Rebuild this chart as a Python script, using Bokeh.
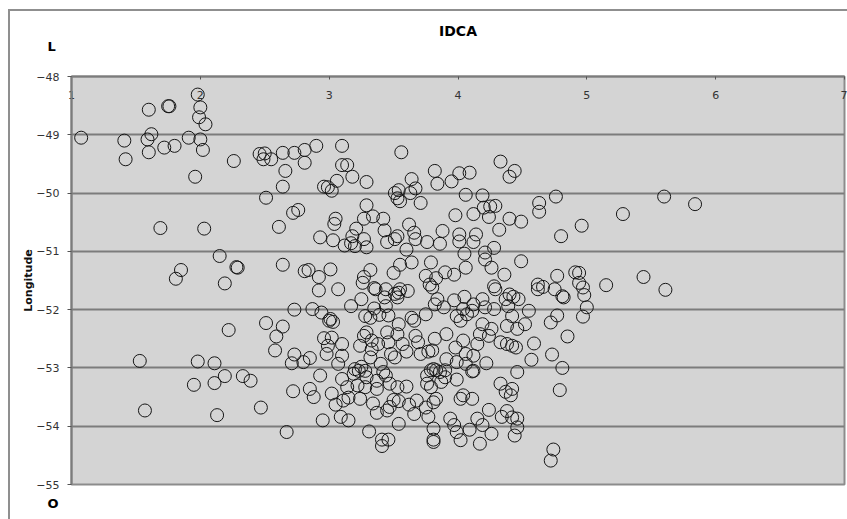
from bokeh.plotting import figure
from bokeh.models import Range1d, FixedTicker, Title, ColumnDataSource
from bokeh.embed import file_html
from bokeh.resources import INLINE

title_text = "IDCA"
y_axis_title = "Longitude"
top_letter = "L"
bottom_letter = "O"
x_ticks = [1, 2, 3, 4, 5, 6, 7]
y_ticks = [-48, -49, -50, -51, -52, -53, -54, -55]

# left part
x_left = [1.075, 1.41, 1.42, 1.60, 1.62, 1.59, 1.60, 1.75, 1.76, 1.72, 1.80, 1.98, 2.00, 1.99, 2.04,
          1.91, 2.00, 2.02, 1.96, 2.26, 2.46, 2.50, 2.49, 2.55, 2.64, 2.73, 2.66, 2.64, 2.51, 2.72,
          2.76, 1.69, 2.03, 2.61, 2.15, 2.28, 2.29, 1.85, 1.81, 2.64, 2.19, 2.73, 2.51, 2.64, 2.59,
          2.58, 2.22, 2.73, 2.71, 1.53, 1.98, 2.11, 2.19, 2.33, 2.39, 1.95, 2.11, 2.72, 1.57, 2.13,
          2.47, 2.67]
y_left = [-49.05, -49.10, -49.42, -48.57, -48.99, -49.08, -49.30, -48.51, -48.51, -49.22, -49.19, -48.31, -48.53, -48.70, -48.82,
          -49.05, -49.08, -49.26, -49.72, -49.45, -49.33, -49.32, -49.42, -49.42, -49.31, -49.31, -49.62, -49.89, -50.08, -50.34,
          -50.29, -50.60, -50.61, -50.58, -51.08, -51.27, -51.28, -51.32, -51.47, -51.23, -51.55, -52.00, -52.23, -52.29, -52.46,
          -52.70, -52.35, -52.77, -52.92, -52.88, -52.89, -52.92, -53.14, -53.14, -53.22, -53.29, -53.26, -53.40, -53.73, -53.81,
          -53.68, -54.10]

# upper middle part
x_upper = [2.81, 2.81, 2.90, 3.10, 3.10, 3.14, 3.18, 3.29, 3.56, 3.06, 2.96, 2.99, 3.02,
           3.29, 3.05, 3.04, 2.93, 3.03, 3.12, 3.18, 3.17, 3.21, 3.27, 3.34, 3.42, 3.20, 3.27, 3.29,
           3.43, 3.45, 3.51, 3.53, 3.60, 3.62, 3.66, 3.67, 3.76, 3.86, 3.88,
           3.51, 3.54, 3.53, 3.55, 3.63, 3.67, 3.64, 3.71,
           3.82, 3.84, 3.95, 4.01, 4.09, 4.06, 4.19, 4.33, 4.40, 4.44,
           3.98, 4.12, 4.20, 4.25, 4.29, 4.24, 4.40, 4.49, 4.32,
           4.01, 4.01, 4.12, 4.14, 4.05, 4.06, 4.21, 4.21, 4.28, 4.26, 4.49, 4.36,
           3.79, 3.90, 3.97, 3.55, 3.64, 3.50, 3.75, 3.83, 3.01, 2.81, 2.84, 2.92, 3.27, 3.32]
y_upper = [-49.26, -49.48, -49.19, -49.19, -49.52, -49.52, -49.72, -49.81, -49.30, -49.79, -49.89, -49.90, -49.96,
           -50.21, -50.44, -50.53, -50.76, -50.81, -50.90, -50.74, -50.86, -50.61, -50.44, -50.40, -50.44, -50.91, -50.79, -50.93,
           -50.64, -50.84, -50.79, -50.74, -50.97, -50.54, -50.68, -50.79, -50.84, -50.87, -50.65,
           -50.00, -49.95, -50.09, -50.14, -50.00, -49.92, -49.76, -50.17,
           -49.62, -49.84, -49.80, -49.66, -49.65, -50.03, -50.04, -49.46, -49.72, -49.62,
           -50.38, -50.36, -50.25, -50.23, -50.22, -50.41, -50.44, -50.49, -50.63,
           -50.71, -50.83, -50.84, -50.71, -51.04, -51.28, -51.02, -51.14, -50.94, -51.28, -51.17, -51.40,
           -51.19, -51.36, -51.40, -51.23, -51.19, -51.37, -51.42, -51.46, -51.31, -51.34, -51.32, -51.44, -51.44, -51.32]

# right part
x_right = [4.63, 4.63, 4.76, 4.80, 4.96, 5.28, 5.60, 5.84,
           4.77, 4.91, 4.94, 5.44,
           4.62, 4.66, 4.62, 4.75, 4.81, 4.82, 4.94, 4.97, 4.98, 5.00, 4.97, 5.15, 5.61,
           4.55, 4.77, 4.72, 4.85, 4.59, 4.73, 4.57, 4.81, 4.79, 4.74, 4.72]
y_right = [-50.17, -50.32, -50.06, -50.74, -50.56, -50.36, -50.06, -50.19,
           -51.42, -51.36, -51.37, -51.44,
           -51.57, -51.61, -51.65, -51.65, -51.77, -51.79, -51.54, -51.62, -51.75, -51.96, -52.12, -51.58, -51.66,
           -52.02, -52.10, -52.22, -52.46, -52.58, -52.77, -52.86, -53.00, -53.38, -54.40, -54.59]

# dense central part
x_dense = [2.92, 3.07, 3.26, 3.35, 3.36, 3.44, 3.51, 3.54, 3.55, 3.61, 3.53, 3.78, 3.80, 4.28, 4.29,
           4.40, 4.43, 4.47, 4.39, 4.37, 4.52, 3.17, 3.25, 2.87, 2.94, 3.00, 3.03, 3.01,
           3.28, 3.32, 3.35, 3.39, 3.44, 3.46, 3.43, 3.64, 3.66, 3.75, 3.82, 3.84, 3.89,
           3.97, 4.05, 4.12, 4.19, 4.21, 4.28, 3.99, 4.02, 4.07, 4.11, 4.04,
           4.19, 4.26, 4.38, 4.42, 4.46,
           2.96, 3.02, 2.99, 3.10, 3.10, 2.98, 3.07, 2.80, 2.85,
           3.24, 3.27, 3.29, 3.33, 3.33, 3.38, 3.32, 3.40,
           3.45, 3.46, 3.48, 3.53, 3.54, 3.57, 3.60, 3.51,
           3.67, 3.69, 3.71, 3.77, 3.80, 3.82, 3.91,
           3.98, 4.04, 4.06, 4.12, 4.17, 4.15, 4.24, 4.33, 4.38, 4.42, 4.45,
           3.99, 4.06, 4.12, 4.22, 4.46, 2.93,
           3.20, 3.23, 3.25, 3.19, 3.28, 3.29, 3.10, 3.14, 3.22, 3.28,
           3.37, 3.37, 3.42, 3.44, 3.47, 3.53, 3.60,
           3.76, 3.79, 3.81, 3.83, 3.86, 3.90, 3.90, 3.91, 3.76, 3.79, 3.87,
           3.99, 4.11, 2.85, 2.88, 3.02, 3.05, 3.11, 3.15, 3.24,
           3.34, 3.37, 3.45, 3.47, 3.50, 3.54,
           3.62, 3.66, 3.68, 3.75, 3.77, 3.81, 3.83,
           4.02, 4.04, 4.11, 4.24, 4.33, 4.37, 4.42, 4.41,
           4.34, 4.38, 4.42, 4.46, 4.46, 4.44, 2.95, 3.09, 3.15, 3.31,
           3.41, 3.46, 3.41, 3.54, 3.81, 3.81, 3.81,
           3.94, 3.97, 3.99, 4.02, 4.09, 4.15, 4.19, 4.17, 4.26]
y_dense = [-51.67, -51.65, -51.54, -51.63, -51.65, -51.65, -51.73, -51.71, -51.65, -51.68, -51.79, -51.57, -51.62, -51.60, -51.65,
           -51.74, -51.78, -51.82, -51.94, -51.82, -52.25, -51.94, -51.82, -51.99, -52.05, -52.19, -52.21, -52.16,
           -52.11, -52.14, -51.98, -52.09, -51.94, -52.10, -51.79, -52.14, -52.19, -52.08, -51.91, -51.82, -51.96,
           -51.84, -51.78, -51.91, -51.82, -51.96, -51.99, -52.11, -52.19, -52.08, -52.02, -51.99,
           -52.25, -52.33, -52.28, -52.11, -52.33,
           -52.49, -52.48, -52.62, -52.59, -52.79, -52.76, -52.93, -52.90, -52.83,
           -52.62, -52.45, -52.39, -52.53, -52.68, -52.59, -52.82, -52.93,
           -52.39, -52.56, -52.76, -52.42, -52.25, -52.59, -52.72, -52.82,
           -52.45, -52.56, -52.76, -52.72, -52.70, -52.50, -52.42,
           -52.65, -52.53, -52.76, -52.79, -52.42, -52.59, -52.45, -52.56, -52.59, -52.62, -52.65,
           -52.90, -52.93, -53.05, -52.92, -53.07, -53.13,
           -53.02, -53.05, -52.98, -53.10, -53.05, -53.16, -53.19, -53.33, -53.30, -53.33,
           -53.22, -53.36, -53.07, -53.13, -53.27, -53.33, -53.32,
           -53.13, -53.04, -53.02, -53.04, -53.07, -53.04, -53.16, -52.85, -53.27, -53.33, -53.24,
           -53.20, -53.06, -53.36, -53.50, -53.44, -53.63, -53.56, -53.51, -53.53,
           -53.61, -53.77, -53.73, -53.67, -53.55, -53.57,
           -53.63, -53.79, -53.56, -53.68, -53.84, -53.59, -53.53,
           -53.53, -53.47, -53.53, -53.72, -53.27, -53.41, -53.36, -53.47,
           -53.84, -53.74, -53.85, -53.87, -54.02, -54.16, -53.90, -53.84, -53.90, -54.09,
           -54.23, -54.23, -54.34, -53.96, -54.04, -54.23, -54.27,
           -53.87, -53.98, -54.10, -54.24, -54.06, -53.87, -53.98, -54.30, -54.13]

xs = x_left + x_upper + x_right + x_dense
ys = y_left + y_upper + y_right + y_dense
source = ColumnDataSource(data=dict(x=xs, y=ys))

p = figure(width=847, height=519, x_range=Range1d(1, 7), y_range=Range1d(-55, -48),
           x_axis_location="above", output_backend="svg", toolbar_location=None,
           min_border_left=71, min_border_right=3, min_border_top=76, min_border_bottom=33)

p.title.text = title_text
p.title.align = "center"
p.title.offset = -23
p.title.standoff = -50
p.title.text_font = "DejaVu Sans"
p.title.text_font_style = "bold"
p.title.text_font_size = "14px"
p.title.text_color = "#000000"

p.add_layout(Title(text=top_letter, align="left", offset=-24, standoff=46, text_font="DejaVu Sans",
                   text_font_style="bold", text_font_size="13px", text_color="#000000"), "above")
p.add_layout(Title(text=bottom_letter, align="left", offset=-24, standoff=18, text_font="DejaVu Sans",
                   text_font_style="bold", text_font_size="13px", text_color="#000000"), "below")

p.background_fill_color = "#d4d4d4"
p.border_fill_color = None
p.styles = {"background-color": "white",
            "box-shadow": "inset 8px 9px 0 0 white, inset 10px 11px 0 0 #8f8f8f"}
p.outline_line_color = "#8c8c8c"
p.outline_line_width = 2

p.xgrid.visible = False
p.ygrid.ticker = FixedTicker(ticks=y_ticks)
p.ygrid.grid_line_color = "#7c7c7c"
p.ygrid.grid_line_width = 2

xa = p.xaxis[0]
xa.ticker = FixedTicker(ticks=x_ticks)
xa.axis_line_color = "#7c7c7c"
xa.axis_line_width = 2
xa.major_tick_in = 3
xa.major_tick_out = 0
xa.major_tick_line_color = "#555555"
xa.minor_tick_line_color = None
xa.major_label_standoff = -22
xa.major_label_text_font = "DejaVu Sans"
xa.major_label_text_font_size = "11px"
xa.major_label_text_color = "#333333"

ya = p.yaxis[0]
ya.ticker = FixedTicker(ticks=y_ticks)
ya.axis_line_color = "#7c7c7c"
ya.axis_line_width = 2
ya.major_tick_in = 0
ya.major_tick_out = 4
ya.major_tick_line_color = "#555555"
ya.minor_tick_line_color = None
ya.major_label_standoff = 8
ya.major_label_text_font = "DejaVu Sans"
ya.major_label_text_font_size = "11px"
ya.major_label_text_color = "#333333"
ya.axis_label = y_axis_title
ya.axis_label_text_font = "DejaVu Sans"
ya.axis_label_text_font_style = "bold"
ya.axis_label_text_font_size = "11px"
ya.axis_label_text_color = "#111111"
ya.axis_label_standoff = -2

p.scatter("x", "y", source=source, marker="circle", size=13, fill_color=None,
          line_color="#161616", line_width=1.0)

open("out.html", "w").write(file_html(p, INLINE))
